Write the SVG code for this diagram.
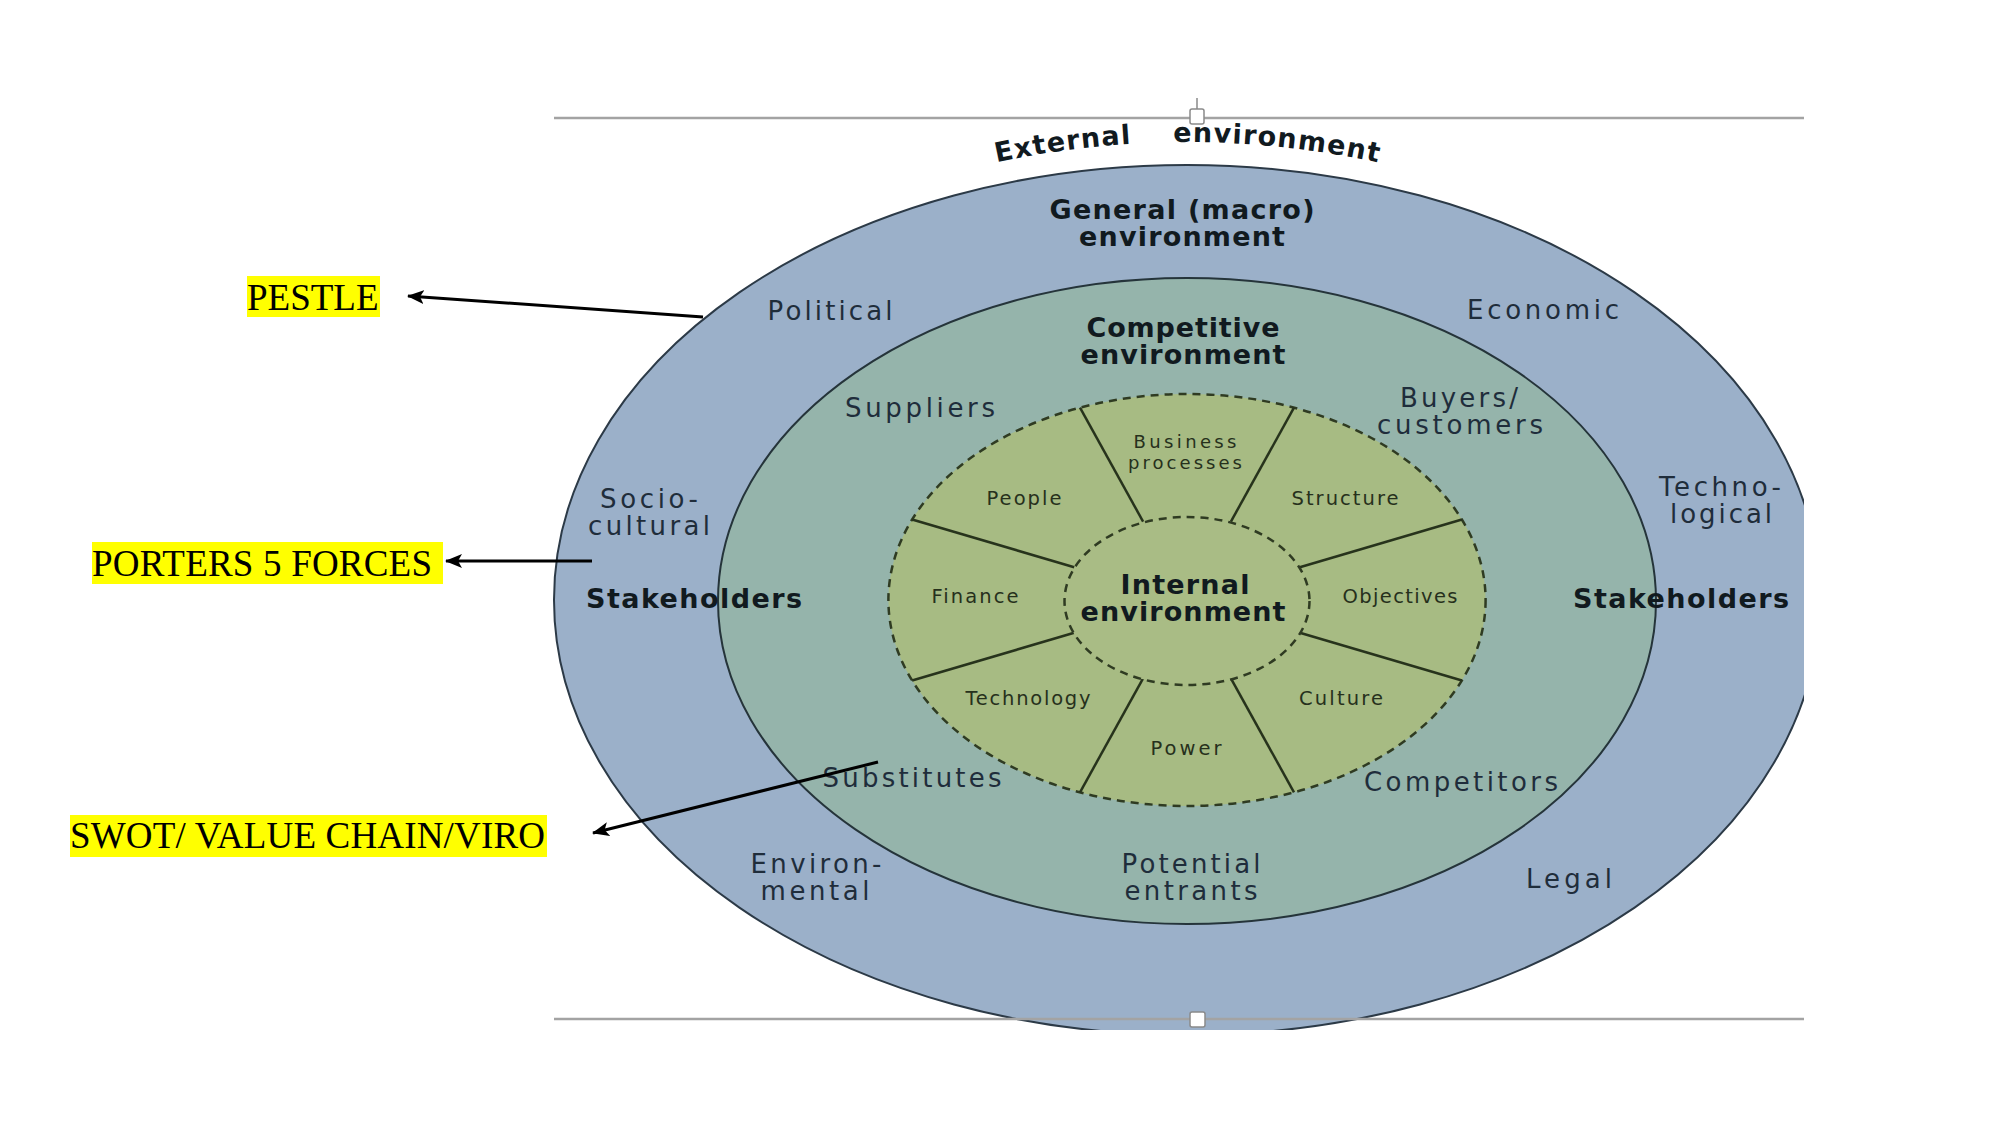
<svg xmlns="http://www.w3.org/2000/svg" width="2001" height="1125" viewBox="0 0 2001 1125">
<defs>
<style>
.lbl{font-family:"DejaVu Sans","Noto Sans",sans-serif;fill:#1f2d3b;text-anchor:middle;font-size:26px}
.bold{font-weight:bold;fill:#111a1f;font-size:27px}
.sm{font-size:19.5px;fill:#26301c}
.hl{font-family:"Liberation Serif","Times New Roman",serif;font-size:37px;fill:#000}
.dash{stroke:#2f3b22;stroke-width:2.5;stroke-dasharray:8 6}
.div{stroke:#27331c;stroke-width:2.5;fill:none}
.frame{stroke:#a3a3a3;stroke-width:2.5;fill:none}
.handle{fill:#fff;stroke:#8a8a8a;stroke-width:1.5}
.arrow{stroke:#000;stroke-width:3;fill:none;marker-end:url(#ah)}
</style>
<clipPath id="pic"><rect x="552" y="100" width="1252" height="930"/></clipPath>
<marker id="ah" markerUnits="userSpaceOnUse" markerWidth="18" markerHeight="14" refX="16" refY="7" orient="auto">
<path d="M0,0 L17,7 L0,14 L4,7 z" fill="#000"/>
</marker>
<path id="arcExt" d="M 887 193.5 A 900 900 0 0 1 1487 193.5" fill="none"/>
</defs>
<rect width="2001" height="1125" fill="#fff"/>

<g id="picture" clip-path="url(#pic)">
<g id="general-env">
<ellipse cx="1187" cy="600" rx="633" ry="435" fill="#9bb0c9" stroke="#2c3a47" stroke-width="2"/>
</g>
<g id="competitive-env">
<ellipse cx="1187" cy="601" rx="469" ry="323" fill="#95b4ab" stroke="#25343a" stroke-width="2"/>
</g>
<g id="internal-ring">
<ellipse cx="1187" cy="600" rx="298.6" ry="206" fill="#a7bb83" class="dash"/>
<line class="div" x1="1143.1" y1="521.6" x2="1080" y2="407.7"/>
<line class="div" x1="1230.9" y1="521.6" x2="1294" y2="407.7"/>
<line class="div" x1="1143.1" y1="678.4" x2="1080" y2="792.3"/>
<line class="div" x1="1230.9" y1="678.4" x2="1294" y2="792.3"/>
<line class="div" x1="1074.2" y1="567.2" x2="912.1" y2="519.5"/>
<line class="div" x1="1299.8" y1="567.2" x2="1461.9" y2="519.5"/>
<line class="div" x1="1074.2" y1="632.8" x2="912.1" y2="680.5"/>
<line class="div" x1="1299.8" y1="632.8" x2="1461.9" y2="680.5"/>
</g>
<g id="internal-core">
<ellipse cx="1187" cy="601" rx="122.5" ry="84" fill="#a9bc85" class="dash"/>
</g>
</g>

<g id="frame">
<line class="frame" x1="554" y1="118" x2="1804" y2="118"/>
<line class="frame" x1="554" y1="1019" x2="1804" y2="1019"/>
<line x1="1197" y1="98" x2="1197" y2="109" stroke="#8a8a8a" stroke-width="1.5"/>
<rect class="handle" x="1190" y="109" width="14" height="15" rx="2"/>
<rect class="handle" x="1190" y="1012" width="15" height="15" rx="2"/>
</g>

<g id="label-external">
<text class="lbl bold" font-size="27" letter-spacing="1.2"><textPath href="#arcExt" startOffset="29.8%">External</textPath></text>
<text class="lbl bold" font-size="27" letter-spacing="1.2"><textPath href="#arcExt" startOffset="64.7%">environment</textPath></text>
</g>

<g id="label-general">
<text class="lbl bold" x="1182" y="219" textLength="265">General (macro)</text>
<text class="lbl bold" x="1182" y="246" textLength="206">environment</text>
</g>
<g id="pestle-factors">
<text class="lbl" x="830" y="320" textLength="125">Political</text>
<text class="lbl" x="1543" y="319" textLength="152">Economic</text>
<text class="lbl" x="649" y="508" textLength="98">Socio-</text>
<text class="lbl" x="649" y="535" textLength="122">cultural</text>
<text class="lbl" x="1720" y="496" textLength="122">Techno-</text>
<text class="lbl" x="1721" y="523" textLength="102">logical</text>
<text class="lbl" x="816" y="873" textLength="131">Environ-</text>
<text class="lbl" x="815" y="900" textLength="109">mental</text>
<text class="lbl" x="1569" y="888" textLength="86">Legal</text>
</g>
<g id="stakeholders">
<text class="lbl bold" font-size="26" x="694" y="608" textLength="216">Stakeholders</text>
<text class="lbl bold" font-size="26" x="1681" y="608" textLength="216">Stakeholders</text>
</g>
<g id="label-competitive">
<text class="lbl bold" x="1183" y="337" textLength="193">Competitive</text>
<text class="lbl bold" x="1183" y="364" textLength="205">environment</text>
</g>
<g id="five-forces">
<text class="lbl" x="920" y="417" textLength="150">Suppliers</text>
<text class="lbl" x="1459" y="407" textLength="118">Buyers/</text>
<text class="lbl" x="1460" y="434" textLength="166">customers</text>
<text class="lbl" x="912" y="787" textLength="179">Substitutes</text>
<text class="lbl" x="1461" y="791" textLength="194">Competitors</text>
<text class="lbl" x="1191" y="873" textLength="139">Potential</text>
<text class="lbl" x="1191" y="900" textLength="133">entrants</text>
</g>
<g id="label-internal">
<text class="lbl bold" x="1185" y="594" textLength="129">Internal</text>
<text class="lbl bold" x="1183" y="621" textLength="205">environment</text>
</g>
<g id="internal-segments">
<text class="lbl sm" x="1024" y="505" textLength="75">People</text>
<text class="lbl sm" font-size="18" style="font-size:18px" x="1185" y="448" textLength="103">Business</text>
<text class="lbl sm" style="font-size:18px" x="1185" y="469" textLength="114">processes</text>
<text class="lbl sm" x="1345" y="505" textLength="107">Structure</text>
<text class="lbl sm" x="975" y="603" textLength="87">Finance</text>
<text class="lbl sm" x="1400" y="603" textLength="115">Objectives</text>
<text class="lbl sm" x="1028" y="705" textLength="125">Technology</text>
<text class="lbl sm" x="1186" y="755" textLength="71">Power</text>
<text class="lbl sm" x="1341" y="705" textLength="84">Culture</text>
</g>

<g id="note-pestle">
<rect x="247" y="276" width="133" height="41" fill="#ffff00"/>
<text class="hl" x="247" y="310">PESTLE</text>
</g>
<g id="note-porters">
<rect x="92" y="542" width="351" height="42" fill="#ffff00"/>
<text class="hl" x="92" y="576" textLength="340">PORTERS 5 FORCES</text>
</g>
<g id="note-swot">
<rect x="70" y="815" width="477" height="42" fill="#ffff00"/>
<text class="hl" x="70" y="848" textLength="475">SWOT/ VALUE CHAIN/VIRO</text>
</g>

<g id="connectors">
<line class="arrow" x1="703" y1="317" x2="408" y2="296"/>
<line class="arrow" x1="592" y1="561" x2="446" y2="561"/>
<line class="arrow" x1="878" y1="762" x2="593" y2="833"/>
</g>
</svg>
